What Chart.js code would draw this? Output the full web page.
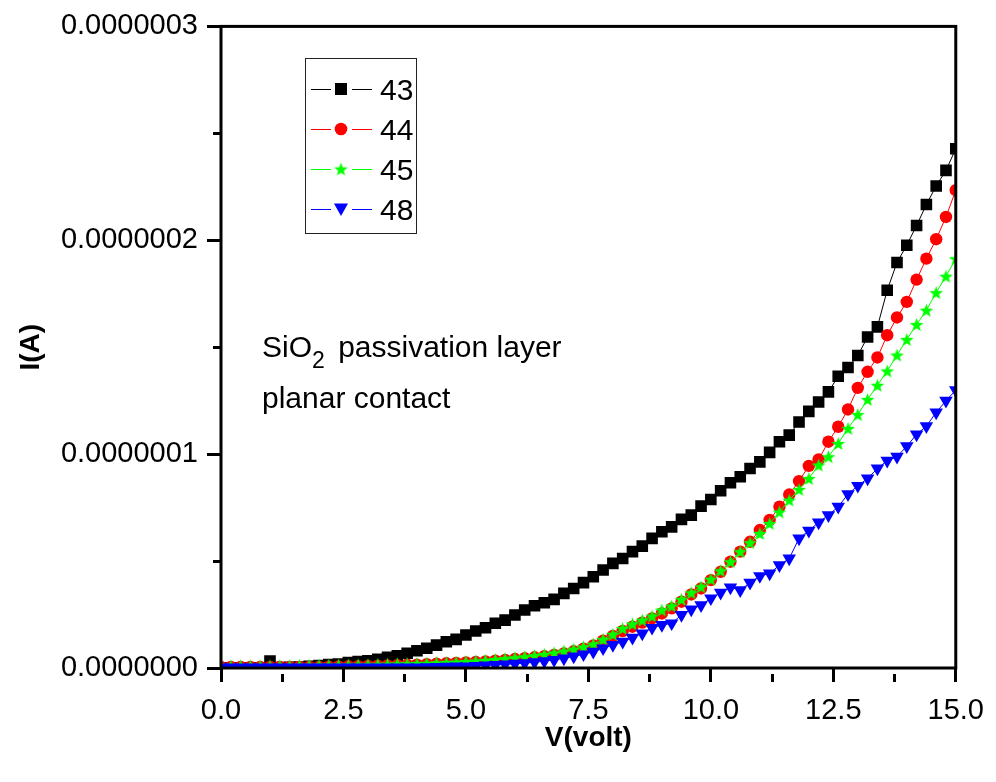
<!DOCTYPE html>
<html><head><meta charset="utf-8">
<script src="https://cdn.jsdelivr.net/npm/chart.js@4.4.1/dist/chart.umd.min.js"></script>
<style>html,body{margin:0;padding:0;background:#fff;overflow:hidden}</style>
</head><body>
<canvas id="c" width="996" height="782" style="display:block;width:996px;height:782px"></canvas>
<script>
// Bias voltage (V)
const voltage = [0.0,0.2,0.4,0.6,0.8,1.0,1.2,1.4,1.6,1.8,2.0,2.2,2.4,2.6,2.8,3.0,3.2,3.4,3.6,3.8,
  4.0,4.2,4.4,4.6,4.8,5.0,5.2,5.4,5.6,5.8,6.0,6.2,6.4,6.6,6.8,7.0,7.2,7.4,7.6,7.8,
  8.0,8.2,8.4,8.6,8.8,9.0,9.2,9.4,9.6,9.8,10.0,10.2,10.4,10.6,10.8,11.0,11.2,11.4,11.6,11.8,
  12.0,12.2,12.4,12.6,12.8,13.0,13.2,13.4,13.6,13.8,14.0,14.2,14.4,14.6,14.8,15.0];

// Currents, in units of 1e-7 A
const i43 = [0.001,0.001,0.001,0.001,0.001,0.033,0.002,0.003,0.005,0.008,
  0.012,0.016,0.019,0.025,0.030,0.034,0.041,0.050,0.057,0.069,
  0.081,0.092,0.107,0.123,0.134,0.154,0.173,0.188,0.209,0.224,
  0.248,0.271,0.291,0.305,0.321,0.349,0.372,0.399,0.427,0.458,
  0.489,0.512,0.544,0.570,0.606,0.637,0.660,0.695,0.715,0.757,
  0.788,0.829,0.866,0.894,0.933,0.964,1.008,1.058,1.089,1.150,
  1.200,1.244,1.291,1.364,1.405,1.461,1.548,1.595,1.766,1.896,
  1.977,2.069,2.167,2.254,2.327,2.428];
const i44 = [0.005,0.005,0.005,0.005,0.005,0.005,0.005,0.005,0.005,0.005,
  0.005,0.006,0.007,0.008,0.009,0.010,0.011,0.012,0.013,0.015,
  0.016,0.018,0.020,0.022,0.024,0.026,0.028,0.031,0.034,0.038,
  0.042,0.046,0.050,0.055,0.061,0.068,0.078,0.090,0.106,0.128,
  0.150,0.173,0.193,0.212,0.232,0.255,0.279,0.310,0.344,0.372,
  0.411,0.450,0.497,0.544,0.590,0.645,0.692,0.754,0.811,0.874,
  0.945,0.975,1.058,1.128,1.209,1.310,1.385,1.452,1.556,1.639,
  1.712,1.816,1.914,2.005,2.109,2.234];
const i45 = [0.010,0.010,0.010,0.010,0.010,0.010,0.011,0.011,0.012,0.012,
  0.013,0.013,0.014,0.014,0.015,0.016,0.017,0.018,0.019,0.020,
  0.021,0.022,0.024,0.026,0.028,0.030,0.033,0.036,0.040,0.044,
  0.048,0.053,0.058,0.064,0.071,0.079,0.088,0.099,0.112,0.134,
  0.158,0.185,0.206,0.224,0.243,0.271,0.290,0.321,0.352,0.380,
  0.415,0.455,0.497,0.544,0.586,0.629,0.676,0.730,0.785,0.835,
  0.886,0.949,0.988,1.050,1.120,1.185,1.256,1.322,1.389,1.463,
  1.536,1.606,1.673,1.755,1.832,1.914];
const i48 = [0.003,0.003,0.003,0.003,0.003,0.003,0.003,0.003,0.003,0.003,
  0.003,0.003,0.003,0.003,0.003,0.003,0.003,0.003,0.003,0.003,
  0.003,0.004,0.005,0.006,0.007,0.008,0.010,0.012,0.014,0.017,
  0.020,0.023,0.027,0.032,0.038,0.045,0.054,0.064,0.076,0.092,
  0.108,0.123,0.142,0.162,0.188,0.201,0.209,0.248,0.274,0.294,
  0.326,0.352,0.377,0.364,0.399,0.430,0.442,0.481,0.512,0.606,
  0.642,0.681,0.715,0.754,0.813,0.852,0.886,0.933,0.969,0.988,
  1.037,1.092,1.131,1.195,1.250,1.299];

const seriesNames = ['43','44','45','48'];
const seriesColors = ['#000000','#ff0000','#00ff00','#0000ff'];
const xTicks = [0,2.5,5,7.5,10,12.5,15];
const yTicks = [0,1e-7,2e-7,3e-7];
const annotationLines = ['SiO', '2', ' passivation layer', 'planar contact'];

const FONT = '"Liberation Sans", Arial, Helvetica, sans-serif';

function makeStar(color, R, r) {
  const s = Math.ceil(R * 2) + 2;
  const c = document.createElement('canvas');
  c.width = s; c.height = s;
  const g = c.getContext('2d');
  g.fillStyle = color;
  g.beginPath();
  for (let k = 0; k < 10; k++) {
    const ang = -Math.PI / 2 + k * Math.PI / 5;
    const rad = (k % 2) ? r : R;
    const px = s / 2 + rad * Math.cos(ang), py = s / 2 + 0.7 + rad * Math.sin(ang);
    if (k) g.lineTo(px, py); else g.moveTo(px, py);
  }
  g.closePath(); g.fill();
  return c;
}
const starImg = makeStar('#00ff00', 7.2, 3.0);
const starImgLegend = makeStar('#00ff00', 7.2, 3.0);

function pts(arr) { return voltage.map((v, k) => ({x: v, y: arr[k] * 1e-7})); }

const ds = (label, arr, color, style, radius, order, rot) => ({
  label, data: pts(arr), showLine: true, borderColor: color, backgroundColor: color,
  borderWidth: 1, pointStyle: style, pointRadius: radius, pointHoverRadius: radius,
  pointBorderWidth: 0, pointRotation: rot || 0, order, tension: 0
});

function isMultiple(v, step) { const k = v / step; return Math.abs(k - Math.round(k)) < 1e-6; }

const decor = {
  id: 'decor',
  afterDatasetsDraw(chart) {
    const {ctx, chartArea: a} = chart;
    ctx.save();
    ctx.strokeStyle = '#000'; ctx.lineWidth = 3;
    ctx.strokeRect(a.left, a.top, a.right - a.left, a.bottom - a.top);
    ctx.restore();
  },
  afterDraw(chart) {
    const ctx = chart.ctx;
    ctx.save();
    // annotation
    ctx.fillStyle = '#000';
    ctx.textBaseline = 'alphabetic';
    ctx.textAlign = 'left';
    ctx.font = '30px ' + FONT;
    let x = 262;
    ctx.fillText(annotationLines[0], x, 357);
    x += ctx.measureText(annotationLines[0]).width;
    ctx.font = '23px ' + FONT;
    ctx.fillText(annotationLines[1], x, 368);
    x += ctx.measureText(annotationLines[1]).width;
    ctx.font = '30px ' + FONT;
    ctx.fillText(annotationLines[2], x + 5, 357);
    ctx.fillText(annotationLines[3], 262, 408);

    // legend
    ctx.lineWidth = 1; ctx.strokeStyle = '#222';
    ctx.strokeRect(305.5, 58.5, 111, 175);
    const rows = [89, 129, 169, 209];
    const styles = ['rect', 'circle', 'star', 'triangle'];
    for (let k = 0; k < 4; k++) {
      const y = rows[k];
      ctx.strokeStyle = seriesColors[k]; ctx.lineWidth = 1;
      ctx.beginPath();
      ctx.moveTo(311, y + 0.5); ctx.lineTo(331, y + 0.5);
      ctx.moveTo(352, y + 0.5); ctx.lineTo(372, y + 0.5);
      ctx.stroke();
      ctx.fillStyle = seriesColors[k];
      const mx = 341, my = y;
      if (styles[k] === 'rect') ctx.fillRect(mx - 6, my - 6, 12, 12);
      else if (styles[k] === 'circle') { ctx.beginPath(); ctx.arc(mx, my, 6.3, 0, Math.PI * 2); ctx.fill(); }
      else if (styles[k] === 'star') ctx.drawImage(starImgLegend, mx - starImgLegend.width / 2, my - starImgLegend.height / 2);
      else { ctx.beginPath(); ctx.moveTo(mx - 7, my - 5.5); ctx.lineTo(mx + 7, my - 5.5); ctx.lineTo(mx, my + 7); ctx.closePath(); ctx.fill(); }
      ctx.fillStyle = '#000';
      ctx.font = '30px ' + FONT;
      ctx.fillText(seriesNames[k], 380, y + 11);
    }
    ctx.restore();
  }
};

const tickDash = (step) => (c) => (c.tick && isMultiple(c.tick.value, step)) ? [] : [0, 6, 8, 100];

new Chart(document.getElementById('c'), {
  type: 'scatter',
  data: {
    datasets: [
      ds(seriesNames[0], i43, seriesColors[0], 'rect', 8.2, 4),
      ds(seriesNames[1], i44, seriesColors[1], 'circle', 6.2, 3),
      ds(seriesNames[2], i45, seriesColors[2], starImg, 7, 2),
      ds(seriesNames[3], i48, seriesColors[3], 'triangle', 7.8, 1, 180)
    ]
  },
  options: {
    responsive: false, animation: false, devicePixelRatio: 1,
    layout: {padding: {left: 0, right: 39, top: 25, bottom: 0}},
    plugins: {legend: {display: false}, tooltip: {enabled: false}},
    scales: {
      x: {
        type: 'linear', min: xTicks[0], max: xTicks[xTicks.length - 1],
        border: {display: false},
        grid: {drawOnChartArea: false, drawTicks: true, tickLength: 14, tickWidth: 3, tickColor: '#000',
               tickBorderDash: tickDash(2.5)},
        ticks: {stepSize: 1.25, autoSkip: false, maxRotation: 0, padding: 12, color: '#000',
                font: {family: FONT, size: 29},
                callback: (v) => isMultiple(v, 2.5) ? Number(v).toFixed(1) : ''},
        title: {display: true, text: 'V(volt)', color: '#000', font: {family: FONT, size: 28, weight: 'bold'},
                padding: {top: 0, bottom: 27}},
        afterFit: (s) => { s.height = 114; }
      },
      y: {
        type: 'linear', min: yTicks[0], max: yTicks[yTicks.length - 1],
        border: {display: false},
        grid: {drawOnChartArea: false, drawTicks: true, tickLength: 14, tickWidth: 3, tickColor: '#000',
               tickBorderDash: tickDash(1e-7)},
        ticks: {stepSize: 0.5e-7, autoSkip: false, padding: 9, color: '#000',
                font: {family: FONT, size: 29},
                callback: (v) => isMultiple(v, 1e-7) ? (Math.round(v / 1e-7) * 1e-7).toFixed(7) : ''},
        title: {display: true, text: 'I(A)', color: '#000', font: {family: FONT, size: 28, weight: 'bold'},
                padding: {top: 14, bottom: 0}},
        afterFit: (s) => { s.width = 221; }
      }
    }
  },
  plugins: [decor]
});
</script>
</body></html>
